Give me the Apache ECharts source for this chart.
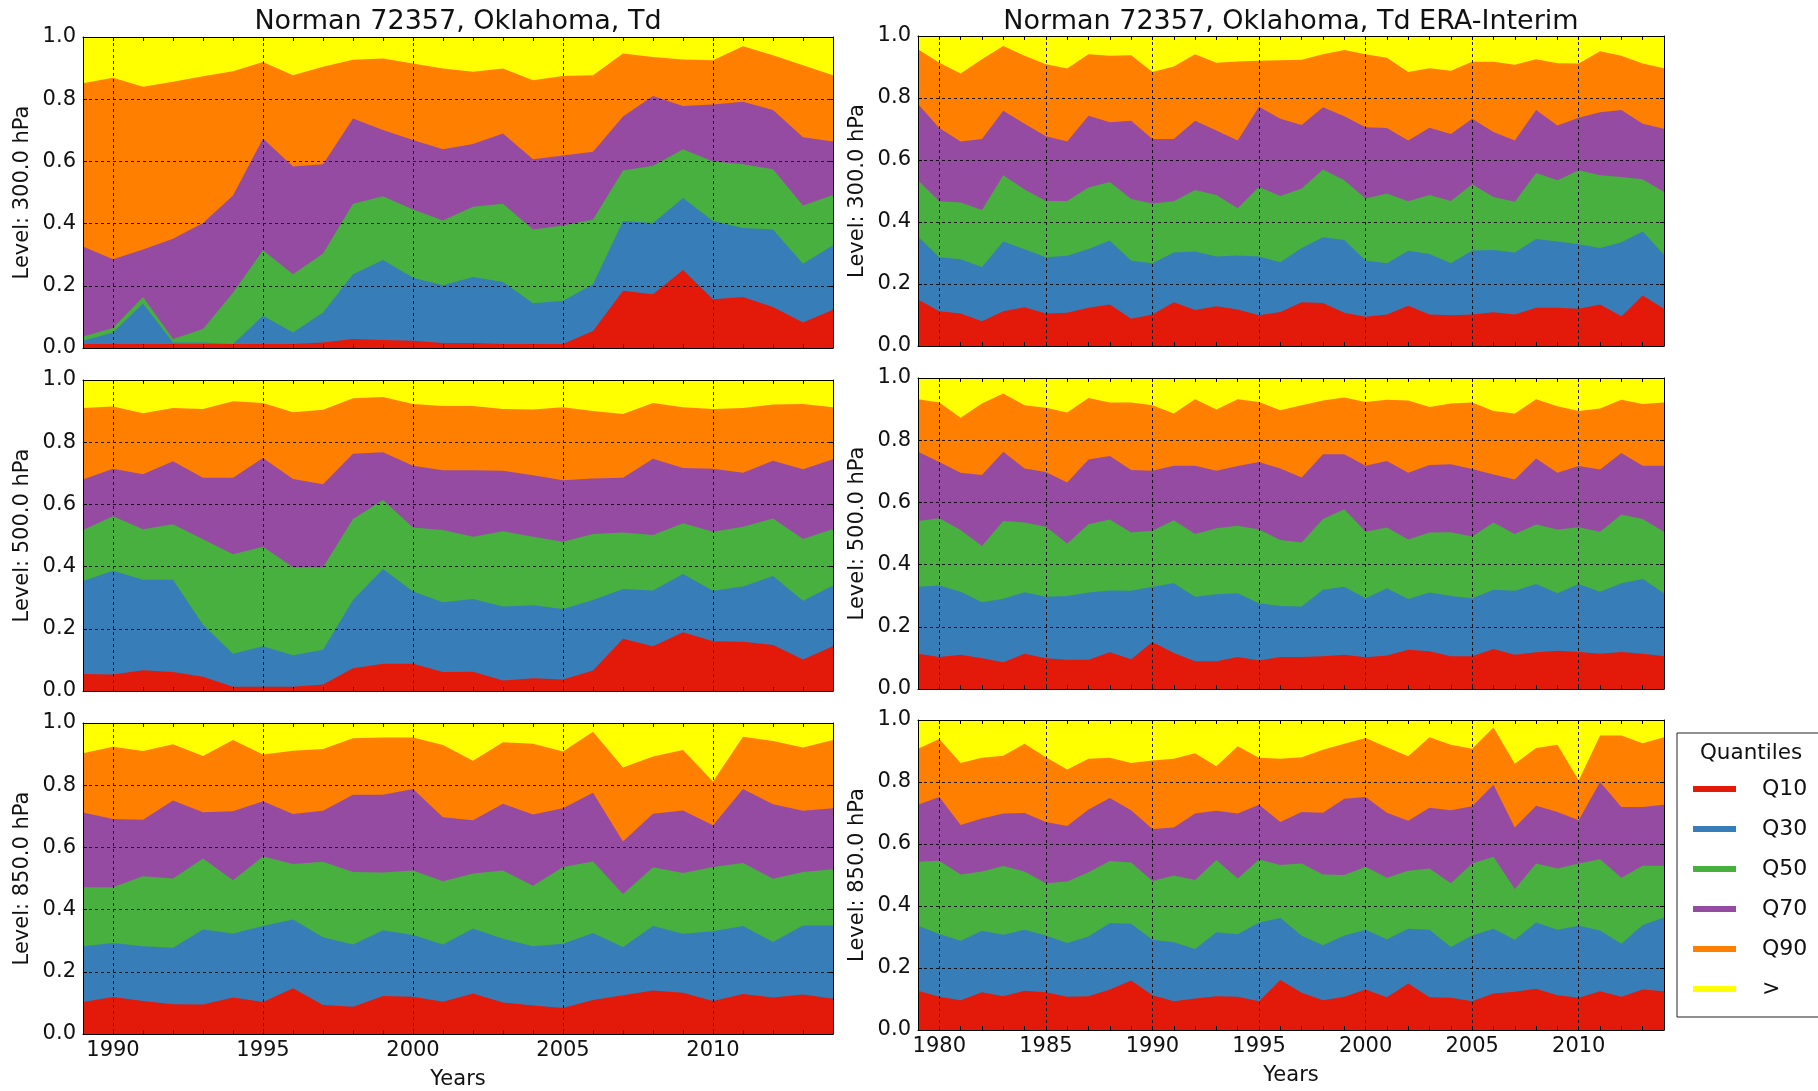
<!DOCTYPE html>
<html>
<head>
<meta charset="utf-8">
<script src="https://cdn.jsdelivr.net/npm/echarts@6/dist/echarts.min.js"></script>
<style>
  html, body { margin: 0; padding: 0; background: #fff; }
  #chart { width: 1818px; height: 1091px; }
</style>
</head>
<body>
<div id="chart"></div>
<script>
// Years of the radiosonde record and of the ERA-Interim record
const YEARS_SONDE = [1989,1990,1991,1992,1993,1994,1995,1996,1997,1998,1999,2000,2001,
  2002,2003,2004,2005,2006,2007,2008,2009,2010,2011,2012,2013,2014];
const YEARS_ERA = [1979,1980,1981,1982,1983,1984,1985,1986,1987,1988,1989,1990,1991,1992,
  1993,1994,1995,1996,1997,1998,1999,2000,2001,2002,2003,2004,2005,2006,2007,2008,2009,
  2010,2011,2012,2013,2014];

const QUANTILE_NAMES = ['Q10', 'Q30', 'Q50', 'Q70', 'Q90', '>'];
const X_TICK_YEARS = ['1980', '1985', '1990', '1995', '2000', '2005', '2010'];
const Y_TICKS = [0.0, 0.2, 0.4, 0.6, 0.8, 1.0];

// Cumulative fraction of the year below each quantile: sonde, 300 hPa
const s300_q10 = [0.013,0.013,0.013,0.013,0.013,0.013,0.013,0.013,0.018,0.029,0.026,0.023,0.016,0.016,0.013,0.013,0.013,0.055,0.184,0.173,0.251,0.157,0.164,0.132,0.082,0.123];
const s300_q30 = [0.023,0.050,0.143,0.018,0.018,0.013,0.104,0.050,0.114,0.237,0.283,0.226,0.202,0.228,0.212,0.144,0.152,0.205,0.408,0.402,0.482,0.408,0.386,0.381,0.271,0.330];
const s300_q50 = [0.037,0.064,0.164,0.029,0.061,0.178,0.314,0.237,0.304,0.464,0.488,0.445,0.410,0.454,0.464,0.381,0.394,0.413,0.571,0.586,0.639,0.600,0.591,0.575,0.458,0.492];
const s300_q70 = [0.326,0.285,0.317,0.351,0.402,0.490,0.674,0.584,0.591,0.738,0.701,0.669,0.639,0.656,0.690,0.607,0.619,0.631,0.744,0.810,0.778,0.783,0.792,0.765,0.678,0.664];
const s300_q90 = [0.851,0.869,0.840,0.856,0.874,0.890,0.920,0.877,0.904,0.927,0.931,0.915,0.899,0.888,0.899,0.861,0.875,0.877,0.947,0.936,0.928,0.925,0.970,0.941,0.909,0.877];

// sonde, 500 hPa
const s500_q10 = [0.055,0.053,0.067,0.061,0.046,0.014,0.014,0.014,0.021,0.073,0.088,0.088,0.061,0.062,0.034,0.041,0.037,0.066,0.168,0.144,0.189,0.160,0.158,0.148,0.101,0.144];
const s500_q30 = [0.354,0.387,0.358,0.358,0.213,0.120,0.144,0.115,0.133,0.293,0.392,0.320,0.285,0.296,0.272,0.276,0.264,0.293,0.328,0.323,0.376,0.322,0.336,0.370,0.290,0.339];
const s500_q50 = [0.518,0.562,0.520,0.536,0.488,0.440,0.464,0.398,0.398,0.553,0.614,0.526,0.518,0.496,0.514,0.496,0.480,0.505,0.510,0.502,0.539,0.512,0.528,0.555,0.489,0.521];
const s500_q70 = [0.680,0.715,0.697,0.739,0.686,0.686,0.749,0.682,0.665,0.763,0.768,0.724,0.710,0.710,0.708,0.694,0.678,0.683,0.686,0.747,0.717,0.715,0.702,0.740,0.713,0.745];
const s500_q90 = [0.910,0.915,0.893,0.910,0.907,0.932,0.926,0.896,0.904,0.941,0.945,0.923,0.916,0.916,0.907,0.905,0.912,0.900,0.891,0.926,0.912,0.907,0.910,0.921,0.923,0.912];

// sonde, 850 hPa
const s850_q10 = [0.103,0.119,0.106,0.096,0.095,0.117,0.103,0.147,0.093,0.088,0.122,0.120,0.104,0.130,0.101,0.092,0.084,0.109,0.125,0.140,0.133,0.106,0.129,0.117,0.127,0.113];
const s850_q30 = [0.282,0.293,0.282,0.277,0.336,0.323,0.347,0.368,0.311,0.288,0.334,0.318,0.288,0.339,0.306,0.282,0.290,0.325,0.280,0.347,0.322,0.330,0.347,0.296,0.349,0.349];
const s850_q50 = [0.472,0.472,0.507,0.500,0.564,0.494,0.571,0.547,0.554,0.521,0.519,0.526,0.491,0.516,0.526,0.477,0.537,0.555,0.450,0.536,0.518,0.537,0.550,0.499,0.521,0.530];
const s850_q70 = [0.712,0.691,0.689,0.751,0.713,0.716,0.748,0.707,0.718,0.769,0.769,0.788,0.697,0.687,0.740,0.706,0.726,0.776,0.619,0.708,0.719,0.671,0.788,0.739,0.718,0.726];
const s850_q90 = [0.903,0.924,0.910,0.932,0.894,0.945,0.899,0.911,0.916,0.951,0.953,0.953,0.929,0.879,0.938,0.933,0.908,0.972,0.857,0.892,0.913,0.812,0.956,0.942,0.921,0.945];

// ERA-Interim, 300 hPa
const e300_q10 = [0.150,0.112,0.105,0.080,0.112,0.125,0.105,0.107,0.123,0.134,0.088,0.102,0.141,0.116,0.128,0.118,0.099,0.110,0.141,0.139,0.107,0.094,0.102,0.130,0.102,0.099,0.102,0.109,0.102,0.123,0.123,0.120,0.134,0.096,0.163,0.120];
const e300_q30 = [0.353,0.286,0.280,0.255,0.337,0.312,0.286,0.291,0.313,0.340,0.275,0.267,0.302,0.305,0.289,0.292,0.289,0.270,0.316,0.351,0.342,0.276,0.267,0.307,0.297,0.267,0.308,0.310,0.302,0.345,0.337,0.328,0.316,0.335,0.369,0.294];
const e300_q50 = [0.535,0.467,0.463,0.439,0.551,0.505,0.468,0.468,0.511,0.529,0.474,0.460,0.467,0.503,0.487,0.444,0.513,0.484,0.508,0.569,0.535,0.476,0.492,0.467,0.487,0.468,0.522,0.481,0.465,0.558,0.535,0.567,0.551,0.545,0.538,0.497];
const e300_q70 = [0.781,0.703,0.660,0.668,0.759,0.717,0.677,0.660,0.743,0.722,0.727,0.668,0.668,0.727,0.695,0.663,0.772,0.733,0.713,0.770,0.741,0.706,0.703,0.663,0.704,0.684,0.733,0.690,0.663,0.761,0.711,0.736,0.754,0.761,0.717,0.701];
const e300_q90 = [0.957,0.914,0.879,0.925,0.968,0.936,0.909,0.895,0.941,0.936,0.938,0.884,0.902,0.941,0.914,0.918,0.920,0.922,0.923,0.941,0.955,0.941,0.930,0.884,0.896,0.888,0.917,0.917,0.907,0.925,0.912,0.911,0.951,0.936,0.911,0.896];

// ERA-Interim, 500 hPa
const e500_q10 = [0.113,0.103,0.110,0.099,0.086,0.113,0.099,0.094,0.094,0.118,0.096,0.151,0.116,0.089,0.089,0.103,0.092,0.103,0.103,0.105,0.110,0.102,0.108,0.126,0.121,0.105,0.105,0.129,0.110,0.118,0.123,0.119,0.113,0.119,0.113,0.105];
const e500_q30 = [0.329,0.333,0.313,0.279,0.290,0.311,0.297,0.299,0.310,0.317,0.316,0.329,0.340,0.297,0.305,0.308,0.276,0.267,0.265,0.319,0.329,0.292,0.324,0.289,0.310,0.299,0.292,0.319,0.316,0.338,0.308,0.338,0.313,0.340,0.354,0.308];
const e500_q50 = [0.540,0.549,0.511,0.460,0.540,0.535,0.522,0.468,0.530,0.545,0.503,0.509,0.543,0.498,0.517,0.525,0.513,0.479,0.471,0.547,0.578,0.506,0.519,0.481,0.503,0.504,0.490,0.535,0.498,0.529,0.513,0.520,0.506,0.561,0.547,0.506];
const e500_q70 = [0.763,0.730,0.695,0.688,0.763,0.709,0.698,0.664,0.738,0.749,0.704,0.702,0.718,0.718,0.702,0.717,0.730,0.709,0.680,0.755,0.755,0.718,0.733,0.695,0.720,0.723,0.707,0.690,0.674,0.741,0.695,0.717,0.706,0.759,0.718,0.718];
const e500_q90 = [0.932,0.921,0.872,0.918,0.950,0.912,0.904,0.889,0.936,0.921,0.921,0.912,0.886,0.932,0.899,0.932,0.923,0.896,0.912,0.928,0.937,0.923,0.930,0.928,0.907,0.918,0.921,0.894,0.886,0.932,0.909,0.894,0.902,0.930,0.916,0.921];

// ERA-Interim, 850 hPa
const e850_q10 = [0.127,0.107,0.096,0.122,0.109,0.127,0.122,0.107,0.109,0.131,0.160,0.112,0.093,0.102,0.109,0.107,0.093,0.161,0.120,0.096,0.107,0.131,0.106,0.150,0.106,0.104,0.093,0.118,0.123,0.133,0.112,0.104,0.125,0.107,0.131,0.125];
const e850_q30 = [0.336,0.310,0.288,0.320,0.307,0.323,0.305,0.281,0.302,0.345,0.343,0.291,0.283,0.261,0.315,0.309,0.347,0.361,0.304,0.273,0.305,0.323,0.293,0.327,0.323,0.268,0.305,0.327,0.291,0.347,0.323,0.336,0.321,0.278,0.339,0.363];
const e850_q50 = [0.543,0.546,0.502,0.511,0.529,0.511,0.473,0.479,0.509,0.545,0.540,0.481,0.498,0.484,0.548,0.489,0.550,0.532,0.537,0.502,0.500,0.527,0.491,0.514,0.521,0.473,0.537,0.559,0.455,0.537,0.521,0.537,0.551,0.491,0.530,0.530];
const e850_q70 = [0.727,0.752,0.661,0.682,0.698,0.700,0.671,0.658,0.711,0.748,0.709,0.648,0.653,0.698,0.707,0.698,0.727,0.671,0.703,0.701,0.746,0.752,0.701,0.675,0.717,0.709,0.722,0.791,0.653,0.723,0.703,0.677,0.800,0.719,0.719,0.727];
const e850_q90 = [0.907,0.939,0.861,0.878,0.885,0.923,0.880,0.840,0.875,0.878,0.861,0.869,0.875,0.893,0.851,0.915,0.878,0.875,0.880,0.904,0.923,0.942,0.912,0.883,0.944,0.920,0.907,0.976,0.859,0.910,0.920,0.805,0.950,0.950,0.925,0.944];

// The whole distribution reaches 1.0 every year
const TOTAL_SONDE = [1,1,1,1,1,1,1,1,1,1,1,1,1,1,1,1,1,1,1,1,1,1,1,1,1,1];
const TOTAL_ERA = [1,1,1,1,1,1,1,1,1,1,1,1,1,1,1,1,1,1,1,1,1,1,1,1,1,1,1,1,1,1,1,1,1,1,1,1];

const COLORS = {
  'Q10': '#e31a0a',
  'Q30': '#377eb8',
  'Q50': '#47b03f',
  'Q70': '#964ba2',
  'Q90': '#ff7f00',
  '>':   '#ffff00'
};

const FONT = 'DejaVu Sans';

// Panel layout: left column = radiosonde, right column = ERA-Interim
const PANELS = [
  { years: YEARS_SONDE, total: TOTAL_SONDE, q: [s300_q10, s300_q30, s300_q50, s300_q70, s300_q90], ylabel: 'Level: 300.0 hPa', left: 83,  top: 37,  width: 750, height: 311, bottom: false },
  { years: YEARS_SONDE, total: TOTAL_SONDE, q: [s500_q10, s500_q30, s500_q50, s500_q70, s500_q90], ylabel: 'Level: 500.0 hPa', left: 83,  top: 380, width: 750, height: 311, bottom: false },
  { years: YEARS_SONDE, total: TOTAL_SONDE, q: [s850_q10, s850_q30, s850_q50, s850_q70, s850_q90], ylabel: 'Level: 850.0 hPa', left: 83,  top: 723, width: 750, height: 311, bottom: true },
  { years: YEARS_ERA,   total: TOTAL_ERA,   q: [e300_q10, e300_q30, e300_q50, e300_q70, e300_q90], ylabel: 'Level: 300.0 hPa', left: 918, top: 36,  width: 746, height: 310, bottom: false },
  { years: YEARS_ERA,   total: TOTAL_ERA,   q: [e500_q10, e500_q30, e500_q50, e500_q70, e500_q90], ylabel: 'Level: 500.0 hPa', left: 918, top: 378, width: 746, height: 311, bottom: false },
  { years: YEARS_ERA,   total: TOTAL_ERA,   q: [e850_q10, e850_q30, e850_q50, e850_q70, e850_q90], ylabel: 'Level: 850.0 hPa', left: 918, top: 720, width: 746, height: 310, bottom: true }
];

const isLabelYear = (idx, val) => X_TICK_YEARS.indexOf(String(val)) >= 0;
const frameLine = { show: true, onZero: false, lineStyle: { color: '#000', width: 1 } };
const innerTick = { show: true, inside: true, length: 4, lineStyle: { color: '#000', width: 1 } };
const gridDash = { color: '#000', width: 1, type: [3, 3], opacity: 0.85 };
const textBase = { fontFamily: FONT, fontSize: 21, color: '#111' };

const grids = [], xAxes = [], yAxes = [], series = [];

PANELS.forEach((p, i) => {
  grids.push({ left: p.left, top: p.top, width: p.width, height: p.height, outerBoundsMode: 'none', containLabel: false });
  const cats = p.years.map(String);

  // bottom axis (labels, yearly ticks, 5-year grid) and top axis (ticks only)
  xAxes.push({
    type: 'category', gridIndex: i, data: cats, boundaryGap: false, position: 'bottom', z: 10,
    axisLine: frameLine, axisTick: Object.assign({ interval: 0 }, innerTick),
    axisLabel: Object.assign({ show: p.bottom, interval: isLabelYear, margin: 6 }, textBase),
    splitLine: { show: true, interval: isLabelYear, lineStyle: gridDash },
    name: p.bottom ? 'Years' : '', nameLocation: 'middle', nameGap: 35,
    nameTextStyle: textBase
  });
  xAxes.push({
    type: 'category', gridIndex: i, data: cats, boundaryGap: false, position: 'top', z: 10,
    axisLine: frameLine, axisTick: Object.assign({ interval: 0 }, innerTick),
    axisLabel: { show: false }, splitLine: { show: false }
  });

  yAxes.push({
    type: 'value', gridIndex: i, min: Y_TICKS[0], max: Y_TICKS[Y_TICKS.length - 1], interval: 0.2,
    position: 'left', z: 10,
    axisLine: frameLine, axisTick: innerTick,
    axisLabel: Object.assign({ formatter: v => v.toFixed(1), margin: 7 }, textBase),
    splitLine: { show: true, lineStyle: gridDash },
    name: p.ylabel, nameLocation: 'middle', nameGap: 50, nameTextStyle: textBase
  });
  yAxes.push({
    type: 'value', gridIndex: i, min: Y_TICKS[0], max: Y_TICKS[Y_TICKS.length - 1], interval: 0.2,
    position: 'right', z: 10,
    axisLine: frameLine, axisTick: innerTick,
    axisLabel: { show: false }, splitLine: { show: false }
  });

  // Each band is filled from zero up to its cumulative curve; higher
  // quantiles are painted first so the lower ones sit on top.
  const layers = [['>', p.total]].concat(
    [4, 3, 2, 1, 0].map(k => [QUANTILE_NAMES[k], p.q[k]])
  );
  layers.forEach(([name, values]) => {
    series.push({
      name: name, type: 'line', xAxisIndex: 2 * i, yAxisIndex: 2 * i,
      data: values, color: COLORS[name],
      symbol: 'none', showSymbol: false, silent: true,
      lineStyle: { width: 0 },
      areaStyle: { color: COLORS[name], opacity: 1 },
      z: 2
    });
  });
});

const chart = echarts.init(document.getElementById('chart'), null, { renderer: 'canvas' });
chart.setOption({
  animation: false,
  backgroundColor: '#fff',
  textStyle: { fontFamily: FONT },
  grid: grids,
  xAxis: xAxes,
  yAxis: yAxes,
  series: series,
  legend: {
    data: QUANTILE_NAMES,
    orient: 'vertical',
    left: 1677, top: 733,
    icon: 'rect', itemWidth: 43, itemHeight: 6, itemGap: 14,
    padding: [43, 60, 15, 16],
    borderColor: '#222', borderWidth: 1, backgroundColor: '#fff',
    selectedMode: false,
    textStyle: { fontFamily: FONT, fontSize: 22, lineHeight: 26, color: '#111', padding: [0, 0, 0, 21] }
  },
  graphic: [
    { type: 'text', x: 458, y: 22, z: 20,
      style: { text: 'Norman 72357, Oklahoma, Td', font: '27px "DejaVu Sans"', fill: '#111', align: 'center', verticalAlign: 'middle' } },
    { type: 'text', x: 1291, y: 22, z: 20,
      style: { text: 'Norman 72357, Oklahoma, Td ERA-Interim', font: '27px "DejaVu Sans"', fill: '#111', align: 'center', verticalAlign: 'middle' } },
    { type: 'text', x: 1751, y: 753, z: 20,
      style: { text: 'Quantiles', font: '21.5px "DejaVu Sans"', fill: '#111', align: 'center', verticalAlign: 'middle' } }
  ]
});
</script>
</body>
</html>
